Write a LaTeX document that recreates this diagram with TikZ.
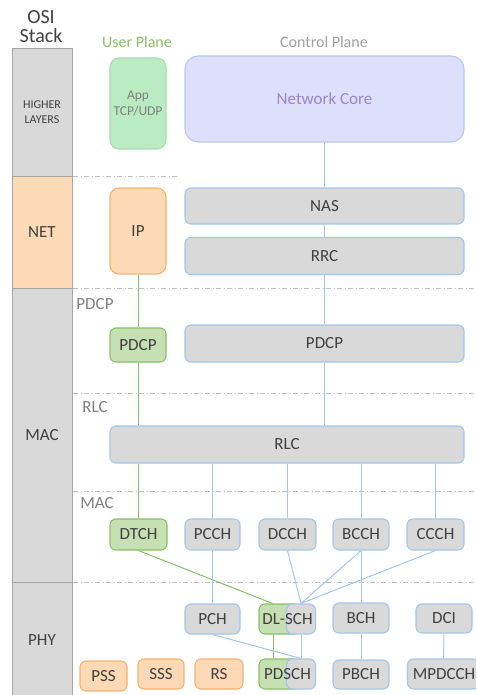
\documentclass[tikz,border=0pt]{standalone}
\usepackage{fontspec}
\setmainfont{Carlito}
\usetikzlibrary{positioning}
\definecolor{stackfill}{HTML}{D9D9D9}
\definecolor{stackline}{HTML}{A6A6A6}
\definecolor{orfill}{HTML}{FDD9B5}
\definecolor{orline}{HTML}{F4B26E}
\definecolor{grfill}{HTML}{C6E0B4}
\definecolor{grline}{HTML}{86C163}
\definecolor{appfill}{HTML}{BAEBC2}
\definecolor{appline}{HTML}{A6DDB0}
\definecolor{corefill}{HTML}{DEDFFA}
\definecolor{coreline}{HTML}{B7C9F0}
\definecolor{coretext}{HTML}{9A86CB}
\definecolor{bluline}{HTML}{A3C6EA}
\definecolor{textdark}{HTML}{404040}
\definecolor{textgray}{HTML}{7F7F7F}
\definecolor{textlight}{HTML}{A0A0A0}
\definecolor{sepgray}{HTML}{BFBFBF}
\tikzset{
    mylayer/.style = {rectangle, draw=stackline, fill=stackfill, line width=1pt, minimum width=60pt, inner sep=0pt, align=center, font=\fontsize{17}{19}\selectfont, text=textdark},
    mylayero/.style = {mylayer, fill=orfill},
    mybox/.style = {rectangle, rounded corners=6pt, draw=bluline, fill=stackfill, line width=1.1pt, inner sep=0pt, minimum height=30pt, align=center, font=\fontsize{17}{19}\selectfont, text=textdark},
    myboxg/.style = {mybox, draw=grline, fill=grfill},
    myboxo/.style = {mybox, draw=orline, fill=orfill},
    mylbl/.style = {inner sep=0pt, font=\fontsize{17}{19}\selectfont, text=textdark},
    mylblg/.style = {inner sep=0pt, font=\fontsize{17}{19}\selectfont, text=textgray},
    edgeb/.style = {-, line width=1pt, bluline},
    edgeg/.style = {-, line width=1pt, grline},
    sepline/.style = {-, line width=0.8pt, sepgray, dash pattern=on 5pt off 2.5pt on 1pt off 2.5pt}
}

\begin{document}
\begin{tikzpicture}[x=1pt,y=-1pt]
\clip (0,0) rectangle (476,695);

% stack
\node[inner sep=0pt, align=center, font=\fontsize{20}{19}\selectfont, text=textdark] at (41,26.5) (osi) {OSI\\Stack};
\node[mylayer, minimum height=127pt, font=\fontsize{12}{15}\selectfont] at (42,112.5) (hl) {HIGHER\\LAYERS};
\node[mylayero, minimum height=112pt] at (42,232) (net) {NET};
\node[mylayer, minimum height=294pt] at (42,435) (mac) {MAC};
\node[mylayer, minimum height=113pt] at (42,638.5) (phy) {};
\node[mylbl] at (42,640) {PHY};

\draw[sepline] (73,176) -- (178,176);
\draw[sepline] (73,288.5) -- (476,288.5);
\draw[sepline] (73,393) -- (476,393);
\draw[sepline] (73,491) -- (476,491);
\draw[sepline] (73,582) -- (476,582);

\node[mylblg] at (95,304) (lpdcp) {PDCP};
\node[mylblg] at (95,407) (lrlc) {RLC};
\node[mylblg] at (97,503) (lmac) {MAC};

% planes
\node[inner sep=0pt, font=\fontsize{16}{18}\selectfont, text=grline] at (137,42) (up) {User Plane};
\node[inner sep=0pt, font=\fontsize{16}{18}\selectfont, text=textlight] at (324,42) (cp) {Control Plane};

\node[mybox, draw=appline, fill=appfill, rounded corners=9pt, minimum width=56pt, minimum height=91pt, font=\fontsize{13.5}{16}\selectfont, text=textgray] at (138,103.5) (app) {App\\TCP/UDP};
\node[mybox, draw=coreline, fill=corefill, rounded corners=13pt, minimum width=279pt, minimum height=86pt, text=coretext] at (324.5,99) (core) {Network Core};

\node[myboxo, rounded corners=9pt, minimum width=56pt, minimum height=86pt] at (138,231) (ip) {IP};
\node[mybox, minimum width=279pt, minimum height=36pt] at (324.5,206) (nas) {NAS};
\node[mybox, minimum width=279pt, minimum height=37pt] at (324.5,256) (rrc) {RRC};

\node[myboxg, minimum width=56pt, minimum height=34pt] at (138,345) (pdcpu) {PDCP};
\node[mybox, minimum width=279pt, minimum height=37pt] at (324.5,343.5) (pdcp) {PDCP};
\node[mybox, minimum width=354pt, minimum height=37pt] at (287,444.5) (rlc) {RLC};

% logical channels
\node[myboxg, minimum width=57pt, minimum height=31pt] at (138.5,534.5) (dtch) {DTCH};
\node[mybox, minimum width=55pt, minimum height=31pt] at (212.5,534.5) (pcch) {PCCH};
\node[mybox, minimum width=57pt, minimum height=31pt] at (287.5,534.5) (dcch) {DCCH};
\node[mybox, minimum width=56pt, minimum height=31pt] at (361,534.5) (bcch) {BCCH};
\node[mybox, minimum width=57pt, minimum height=31pt] at (435.5,534.5) (ccch) {CCCH};

% transport / physical
\node[mybox, minimum width=55pt] at (212.5,619) (pch) {PCH};
\node[myboxg, minimum width=41pt] at (279.5,619) (dlschu) {};
\node[mybox, minimum width=29pt] at (301,619) (dlsch) {};
\node[mylbl] at (287.5,619) {DL-SCH};
\node[mybox, minimum width=56pt] at (361,618) (bch) {BCH};
\node[mybox, minimum width=56pt, minimum height=29pt] at (444,618.5) (dci) {DCI};

\node[myboxo, minimum width=47pt] at (103.5,676) (pss) {PSS};
\node[myboxo, minimum width=46pt] at (161,674) (sss) {SSS};
\node[myboxo, minimum width=48pt] at (219,674) (rs) {RS};
\node[myboxg, minimum width=41pt] at (279.5,674) (pdschu) {};
\node[mybox, minimum width=29pt] at (301,674) (pdsch) {};
\node[mylbl] at (287.5,674) {PDSCH};
\node[mybox, minimum width=56pt, minimum height=29pt] at (361,674.5) (pbch) {PBCH};
\node[mybox, minimum width=72pt] at (443.5,674) (mpdcch) {};
\node[mylbl] at (444,674) {MPDCCH};

% user plane
\draw[edgeg] (ip) -- (pdcpu);
\draw[edgeg] (pdcpu) -- (rlc.north -| pdcpu);
\draw[edgeg] (rlc.south -| dtch) -- (dtch);
\draw[edgeg] (dtch.south) -- ([xshift=-7pt]dlschu.north);
\draw[edgeg] ([xshift=-6pt]dlschu.south) -- ([xshift=-6pt]pdschu.north);

% control plane
\draw[edgeb] (core) -- (nas);
\draw[edgeb] (nas) -- (rrc);
\draw[edgeb] (rrc) -- (pdcp);
\draw[edgeb] (pdcp) -- (rlc.north -| pdcp);
\draw[edgeb] (rlc.south -| pcch) -- (pcch);
\draw[edgeb] (rlc.south -| dcch) -- (dcch);
\draw[edgeb] (rlc.south -| bcch) -- (bcch);
\draw[edgeb] (rlc.south -| ccch) -- (ccch);
\draw[edgeb] (pcch) -- (pch);
\draw[edgeb] (dcch.south) -- (dlsch.north);
\draw[edgeb] (bcch.south) -- (dlsch.north);
\draw[edgeb] (ccch.south) -- (dlsch.north);
\draw[edgeb] (bcch) -- (bch);
\draw[edgeb] (pch.south) -- (pdsch.north);
\draw[edgeb] (dlsch) -- (pdsch);
\draw[edgeb] (bch) -- (pbch);
\draw[edgeb] (dci) -- (mpdcch);

\end{tikzpicture}
\end{document}
